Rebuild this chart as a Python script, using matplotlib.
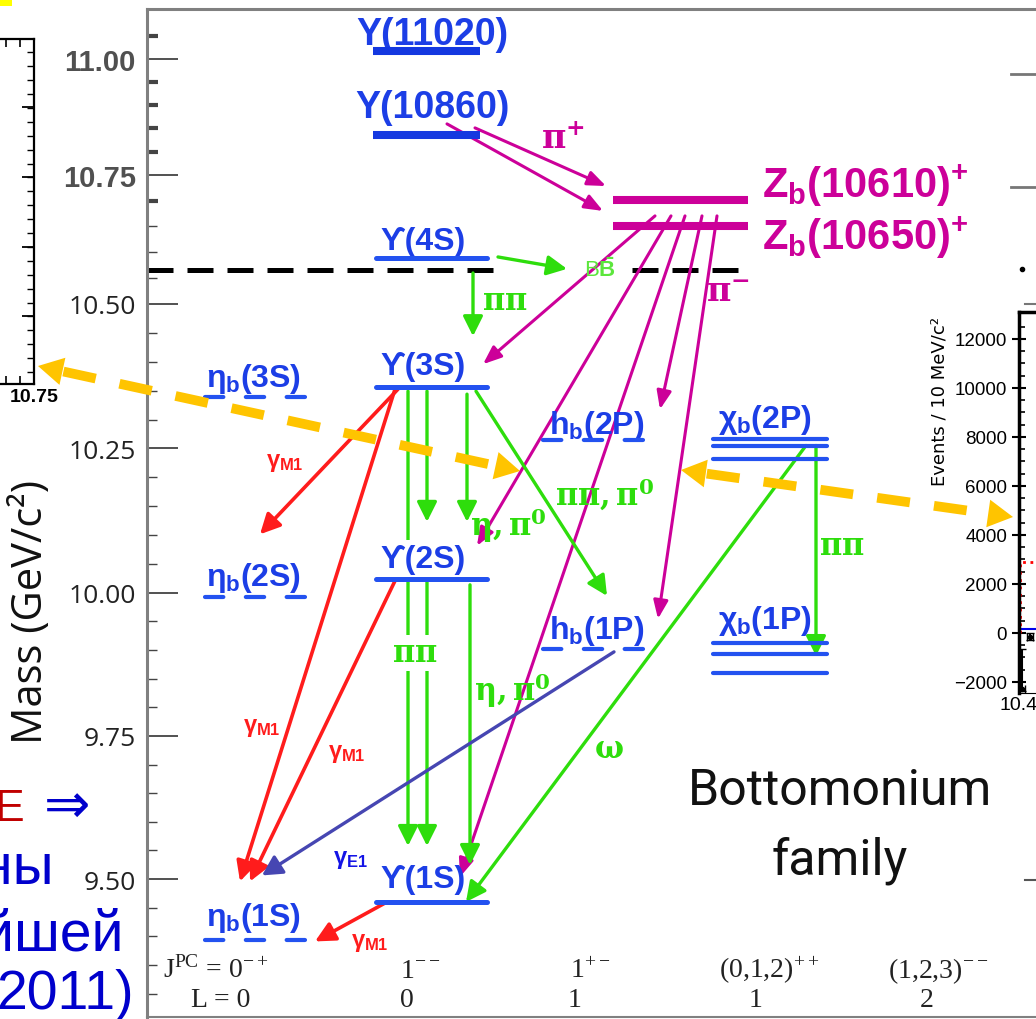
import numpy as np
import matplotlib
matplotlib.use("Agg")
import matplotlib.pyplot as plt
from matplotlib.ticker import FixedLocator, NullFormatter
from matplotlib.patches import Rectangle

plt.rcParams['mathtext.fontset'] = 'custom'
plt.rcParams['mathtext.rm'] = 'Liberation Sans:bold'
plt.rcParams['mathtext.it'] = 'Liberation Sans:bold'
plt.rcParams['mathtext.bf'] = 'DejaVu Serif:bold'
plt.rcParams['mathtext.sf'] = 'Liberation Serif'

# ---- data (masses in GeV/c^2) ----
ups_high_names = ['Υ(11020)', 'Υ(10860)']
ups_high_mass = [11.017, 10.836]
ups_names = ['ϒ(4S)', 'ϒ(3S)', 'ϒ(2S)', 'ϒ(1S)']
ups_mass = [10.589, 10.356, 10.024, 9.460]
etab_names = [r'$\eta_b$(3S)', r'$\eta_b$(2S)', r'$\eta_b$(1S)']
etab_mass = [10.339, 9.992, 9.393]
hb_names = ['h$_b$(2P)', 'h$_b$(1P)']
hb_mass = [10.264, 9.902]
chib_names = [r'$\chi_b$(2P)', r'$\chi_b$(1P)']
chib_mass = [[10.267, 10.255, 10.232], [9.912, 9.893, 9.860]]
zb_names = [r'$\mathrm{Z_b(10610)^{+}}$', r'$\mathrm{Z_b(10650)^{+}}$']
zb_mass = [10.701, 10.651]
bb_threshold = 10.566

mass_ticks = [9.50, 9.75, 10.00, 10.25, 10.50, 10.75, 11.00]
mass_ticklabels = ['9.50', '9.75', '10.00', '10.25', '10.50', '10.75', '11.00']

jpc_labels = [r'J$^{\mathsf{PC}}$ = 0$^{\mathsf{-+}}$', r'1$^{\mathsf{--}}$', r'1$^{\mathsf{+-}}$',
              r'(0,1,2)$^{\mathsf{++}}$', r'(1,2,3)$^{\mathsf{--}}$']
l_labels = ['L = 0', '0', '1', '1', '2']

# transitions: source, target, kind
trans_src = ['Y10860', 'Y10860', 'Zb10650', 'Zb10650', 'Zb10650', 'Zb10650', 'Zb10650',
             'Y4S', 'Y4S', 'Y3S', 'Y3S', 'Y3S', 'Y2S', 'Y2S', 'Y3S', 'chib2P', 'chib2P',
             'Y3S', 'Y3S', 'Y2S', 'Y1S', 'hb1P']
trans_dst = ['Zb10610', 'Zb10650', 'Y3S', 'Y2S', 'Y1S', 'hb2P', 'hb1P',
             'BB', 'Y3S', 'Y1S', 'Y2S', 'Y2S', 'Y1S', 'Y1S', 'hb1P', 'chib1P', 'Y1S',
             'etab2S', 'etab1S', 'etab1S', 'etab1S', 'etab1S']
trans_kind = ['pi'] * 7 + ['had'] * 10 + ['M1'] * 4 + ['E1']

# right-hand inset (partly visible)
inset_x = [10.403, 10.413]
inset_y = [-2300, -150]
inset_yerr = [[80, 120], [1650, 150]]
inset_fit_y = 150
inset_bkg_y = 2900

state_mass = {
    'Y10860': ups_high_mass[1], 'Y4S': ups_mass[0], 'Y3S': ups_mass[1],
    'Y2S': ups_mass[2], 'Y1S': ups_mass[3], 'etab2S': etab_mass[1], 'etab1S': etab_mass[2],
    'hb2P': hb_mass[0], 'hb1P': hb_mass[1], 'chib2P': chib_mass[0][1], 'chib1P': chib_mass[1][1],
    'Zb10610': zb_mass[0], 'Zb10650': zb_mass[1], 'BB': bb_threshold,
}

# ---- layout ----
W, H = 1036, 1020
C_LEVEL = '#2352f0'
C_LABEL = '#1c3ee6'
C_MAG = '#cc0099'
C_GREEN = '#2edd0c'
C_RED = '#ff1c1c'
C_PURP = '#4646b2'
C_GOLD = '#ffc400'
kind_color = {'pi': C_MAG, 'had': C_GREEN, 'M1': C_RED, 'E1': C_PURP}

# the pasted diagram is not quite linear in mass: pixel rows of the tick marks
scale_mass = np.array([9.0, 9.50, 9.75, 10.00, 10.25, 10.50, 10.75, 11.00, 11.5])
scale_px = np.array([1167, 880, 737, 593.7, 449.4, 305, 175.7, 60, -171.5])


def fwd(m):
    return -np.interp(m, scale_mass, scale_px)


def inv(v):
    return np.interp(-np.asarray(v), scale_px[::-1], scale_mass[::-1])


def shift(m, dpx):
    return float(inv(fwd(m) + dpx))


def at(py):
    return float(inv(-py))


def fig_box(left, top, right, bottom):
    return [left / W, 1 - bottom / H, (right - left) / W, (bottom - top) / H]


fig = plt.figure(figsize=(W / 100, H / 100), dpi=100)

ax = fig.add_axes(fig_box(147, 10, 1036, 1018))
ax.set_yscale('function', functions=(fwd, inv))
ax.set_xlim(147, 1036)
ax.set_ylim(at(1018), at(10))
for side in ['left', 'top', 'bottom']:
    ax.spines[side].set_color('#808080')
    ax.spines[side].set_linewidth(2.2)
ax.spines['bottom'].set_linewidth(1.5)
ax.spines['right'].set_visible(False)
ax.set_xticks([])

ax.yaxis.set_major_locator(FixedLocator(mass_ticks))
minor = [round(v, 2) for v in np.arange(9.30, 11.08, 0.05) if min(abs(v - t) for t in mass_ticks) > 0.01]
ax.yaxis.set_minor_locator(FixedLocator(minor))
ax.yaxis.set_minor_formatter(NullFormatter())
ax.set_yticklabels(mass_ticklabels)
ax.tick_params(axis='y', which='major', direction='in', length=22, width=1.2, color='#333333', pad=8)
ax.tick_params(axis='y', which='minor', direction='in', length=7, width=1.0, color='#444444')
for t, v in zip(ax.yaxis.get_minor_ticks(), minor):
    if v > 10.67:
        t.tick1line.set_markeredgewidth(3.0)
        t.tick1line.set_color('black')
        t.tick1line.set_markersize(8)
for lbl, v in zip(ax.get_yticklabels(), mass_ticks):
    if v > 10.6:
        lbl.set_fontfamily('Liberation Sans')
        lbl.set_fontweight('bold')
        lbl.set_fontsize(21)
        lbl.set_color('#505050')
    else:
        lbl.set_fontfamily('Open Sans')
        lbl.set_fontsize(19)
        lbl.set_color('#222222')

ax.set_ylabel('Mass (GeV/c²)', fontfamily='Open Sans', fontsize=30, color='#111111')
ax.yaxis.set_label_coords((52 - 147) / 889, (1018 - 612) / 1008)

lab_font = dict(fontfamily=['Liberation Sans', 'DejaVu Sans'], fontweight='bold', color=C_LABEL)


def level(x0, x1, m, lw, style='solid', cap='round', color=C_LEVEL):
    kw = dict(color=color, lw=lw, zorder=5)
    if style == 'dashed':
        ax.plot([x0, x1], [m, m], dashes=(4.4, 5.4), dash_capstyle='round', **kw)
    else:
        ax.plot([x0, x1], [m, m], solid_capstyle=cap, **kw)


def level_label(text, xc, m, dy, size, ha='center', **extra):
    ax.annotate(text, xy=(xc, m), xytext=(0, dy), textcoords='offset pixels',
                ha=ha, va='baseline', fontsize=size, zorder=4, **{**lab_font, **extra})


# high Upsilons
for name, m, dy in zip(ups_high_names, ups_high_mass, [7, 18]):
    level(373, 480, m, 5.8, cap='butt', color='#1438e0')
    level_label(name, 432, m, dy, 27)

# Upsilon(nS)
for name, m, dy in zip(ups_names, ups_mass, [9, 13, 12, 15]):
    level(376, 487, m, 3.6)
    extra = {}
    if name == 'ϒ(2S)':
        extra = dict(bbox=dict(facecolor='white', edgecolor='none', pad=3))
    level_label(name, 423, m, dy, 23, **extra)

for name, m, dy in zip(etab_names, etab_mass, [11, 12, 15]):
    level(205, 306, m, 3.0, style='dashed')
    level_label(name, 254, m, dy, 23)

for name, m, dy in zip(hb_names, hb_mass, [7, 11]):
    level(543, 647, m, 3.0, style='dashed')
    level_label(name, 597, m, dy, 23)

for name, ms, dy in zip(chib_names, chib_mass, [12, 15]):
    for m in ms:
        level(713, 827, m, 3.0)
    level_label(name, 765, ms[0], dy, 23)

for name, m, dy in zip(zb_names, zb_mass, [3, -23]):
    level(613, 748, m, 5.8, cap='butt', color=C_MAG)
    level_label(name, 762, m, dy, 30, ha='left', color=C_MAG)

# open-bottom threshold
for x0, x1 in [(147, 497), (632, 740)]:
    ax.plot([x0, x1], [bb_threshold] * 2, color='black', lw=3.6, dashes=(5.2, 2.8), zorder=2)

# transitions: x0, dy0, x1, dy1 (pixels, dy measured upward from the level)
arrow_geom = [
    (475, 7, 606, 14), (447, 11, 603, 15), (655, 10, 483, 23), (671, 10, 477, 33),
    (685, 10, 460, 25), (702, 10, 660, 31), (717, 10, 658, 30),
    (498, 1, 567, 1), (473, -15, 473, 51), (408, -4, 408, 56), (427, -4, 427, 57),
    (467, -7, 467, 57), (427, -2, 427, 56), (470, -6, 470, 37), (476, -4, 607, 53),
    (816, 0, 816, -2), (806, 0, 466, 0),
    (398, -2, 260, 63), (395, -2, 240, 59), (395, -2, 250, 59), (387, 0, 315, -1),
    (614, -3, 262, 65),
]
head_style = {'pi': ('0.55', '0.22', 2.2), 'had': ('0.6', '0.3', 2.4),
              'M1': ('0.6', '0.3', 2.6), 'E1': ('0.6', '0.32', 2.4)}
for src, dst, kind, (x0, dy0, x1, dy1) in zip(trans_src, trans_dst, trans_kind, arrow_geom):
    hl, hw, lw = head_style[kind]
    ax.annotate('', xy=(x1, shift(state_mass[dst], dy1)), xytext=(x0, shift(state_mass[src], dy0)),
                arrowprops=dict(arrowstyle=f'-|>,head_length={hl},head_width={hw}',
                                color=kind_color[kind], lw=lw, mutation_scale=20,
                                shrinkA=0, shrinkB=0),
                zorder=3)

arrow_labels = [
    (r'$\mathbf{\pi^{+}}$', 563, 140, C_MAG, 24, False),
    (r'$\mathbf{\pi^{-}}$', 728, 293, C_MAG, 24, False),
    (r'$\mathbf{\pi\pi}$', 505, 302, C_GREEN, 22, False),
    (r'$\mathbf{\pi\pi}$', 415, 654, C_GREEN, 22, True),
    (r'$\mathbf{\eta,\pi^{0}}$', 508, 526, C_GREEN, 22, False),
    (r'$\mathbf{\pi\pi,\pi^{0}}$', 605, 495, C_GREEN, 22, False),
    (r'$\mathbf{\eta,\pi^{0}}$', 512, 691, C_GREEN, 22, False),
    (r'$\mathbf{\pi\pi}$', 842, 547, C_GREEN, 22, False),
    (r'$\mathbf{\omega}$', 609, 750, C_GREEN, 22, False),
    (r'$\gamma_{M1}$', 285, 463, C_RED, 17, False),
    (r'$\gamma_{M1}$', 262, 728, C_RED, 17, False),
    (r'$\gamma_{M1}$', 347, 754, C_RED, 17, False),
    (r'$\gamma_{M1}$', 370, 943, C_RED, 17, False),
    (r'$\gamma_{E1}$', 350, 860, '#1414e6', 17, False),
    (r'B$\bar{\mathrm{B}}$', 600, 270, '#5ce63c', 16, False),
]
for text, x, y, c, s, boxed in arrow_labels:
    kw = dict(ha='center', va='center', color=c, fontsize=s, zorder=4, fontfamily='Liberation Sans')
    if boxed:
        kw['bbox'] = dict(facecolor='white', edgecolor='none', pad=2)
    ax.text(x, at(y), text, **kw)

# quantum-number columns
col_line1 = [163, 400, 570, 719, 888]
col_line2 = [221, 407, 575, 756, 927]
for x1, x2, j, l in zip(col_line1, col_line2, jpc_labels, l_labels):
    ax.text(x1, at(978), j, ha='left', va='baseline', fontsize=20, fontfamily='Liberation Serif', color='#222222')
    ax.text(x2, at(1007), l, ha='center', va='baseline', fontsize=20, fontfamily='Liberation Serif', color='#222222')

ax.text(840, at(805), 'Bottomonium', ha='center', va='baseline', fontsize=36, fontfamily='Roboto', color='#111111')
ax.text(840, at(874), 'family', ha='center', va='baseline', fontsize=36, fontfamily='Roboto', color='#111111')

# ---- left inset (cut by the slide edge) ----
axl = fig.add_axes(fig_box(-200, 40, 34, 385))
axl.set_xlim(10.75 - 234 * 0.01 / 14, 10.75)
axl.set_ylim(0, 345)
axl.spines['left'].set_visible(False)
for side in ['right', 'top', 'bottom']:
    axl.spines[side].set_linewidth(1.6)
axl.yaxis.tick_right()
axl.yaxis.set_major_locator(FixedLocator([68, 137.5, 207, 277]))
axl.yaxis.set_minor_locator(FixedLocator(np.arange(12, 345, 13.9)))
axl.yaxis.set_major_formatter(NullFormatter())
axl.tick_params(axis='y', which='major', direction='in', length=9, width=1.3)
axl.tick_params(axis='y', which='minor', direction='in', length=5, width=1.0)
axl.xaxis.set_major_locator(FixedLocator([10.75]))
axl.xaxis.set_minor_locator(FixedLocator([10.74, 10.73]))
axl.set_xticklabels(['10.75'])
axl.tick_params(axis='x', which='both', direction='in', top=True, length=6, width=1.2,
                labelsize=14, pad=3)
for lbl in axl.get_xticklabels():
    lbl.set_fontweight('bold')
    lbl.set_fontfamily('Liberation Sans')

# ---- right inset (cut by the slide edge) ----
axr = fig.add_axes(fig_box(1019, 313, 1359, 694))
axr.set_xlim(10.40, 10.80)
axr.set_ylim(-2450, 13100)
for side in ['left', 'top']:
    axr.spines[side].set_linewidth(2.5)
axr.errorbar(inset_x, inset_y, yerr=inset_yerr, xerr=0.004, fmt='o', ms=3, color='black',
             lw=1.5, capsize=3)
axr.plot([10.401, 10.401, 10.8], [0, inset_bkg_y, inset_bkg_y], color='red', ls=':', lw=2)
axr.axhline(inset_fit_y, color='#0000ee', lw=1.5)
axr.set_yticks(range(-2000, 12001, 2000))
axr.yaxis.set_minor_locator(FixedLocator(np.arange(-2000, 13000, 500)))
axr.tick_params(axis='y', which='major', direction='inout', length=10, width=1.5, labelsize=13.5)
axr.tick_params(axis='y', which='minor', direction='in', length=4, width=1.2)
axr.set_xticks([10.4])
axr.set_xticklabels(['10.4'])
axr.tick_params(axis='x', direction='in', length=6, labelsize=14, pad=2)
axr.set_ylabel('Events / 10 MeV/c²', fontsize=13)
axr.yaxis.set_label_coords((948 - 1019) / 340, (694 - 401) / 381)
for lbl in axr.get_yticklabels() + axr.get_xticklabels():
    lbl.set_fontfamily('Liberation Sans')

# ---- overlay: connectors and slide text ----
ov = fig.add_axes([0, 0, 1, 1], zorder=10)
ov.set_xlim(0, W)
ov.set_ylim(H, 0)
ov.axis('off')
ov.patch.set_alpha(0)


def gold_double(p0, p1):
    p0, p1 = np.array(p0, float), np.array(p1, float)
    d = (p1 - p0) / np.linalg.norm(p1 - p0)
    a, b = p0 + d * 26, p1 - d * 26
    ov.plot([a[0], b[0]], [a[1], b[1]], color=C_GOLD, lw=7, dashes=(3.4, 2.5), dash_capstyle='butt')
    for tip in (p0, p1):
        dirn = d if tip is p1 else -d
        ov.annotate('', xy=tip, xytext=tip - dirn * 34,
                    arrowprops=dict(arrowstyle='-|>,head_length=0.9,head_width=0.5', color=C_GOLD,
                                    lw=0, mutation_scale=20, shrinkA=0, shrinkB=0))


gold_double((38, 367), (520, 472))
gold_double((681, 471), (1013, 518))

ov.add_patch(Rectangle((0, 0), 12, 7, color='#ffff00', lw=0))
for y in (75, 188):
    ov.plot([1011, 1036], [y, y], color='#777777', lw=2)
ov.plot([1025, 1036], [305, 305], color='#777777', lw=1.5)
ov.plot([1025, 1036], [881, 881], color='#555555', lw=1.5)
ov.plot([1022], [270], 'o', color='black', ms=3)

ru = dict(fontfamily='Liberation Sans', va='baseline')
ov.text(-6, 821, 'E', color='#c00000', fontsize=32, ha='left', **ru)
ov.text(67, 808, '⇒', color='#0000cc', fontsize=40, fontfamily='DejaVu Sans', va='center', ha='center')
ov.text(54, 884, 'ны', color='#0000cc', fontsize=41, ha='right', **ru)
ov.text(123, 951, 'йшей', color='#0000cc', fontsize=41, ha='right', **ru)
ov.text(134, 1009, '2011)', color='#0000cc', fontsize=40, ha='right', **ru)

fig.savefig('out.png', dpi=100)
